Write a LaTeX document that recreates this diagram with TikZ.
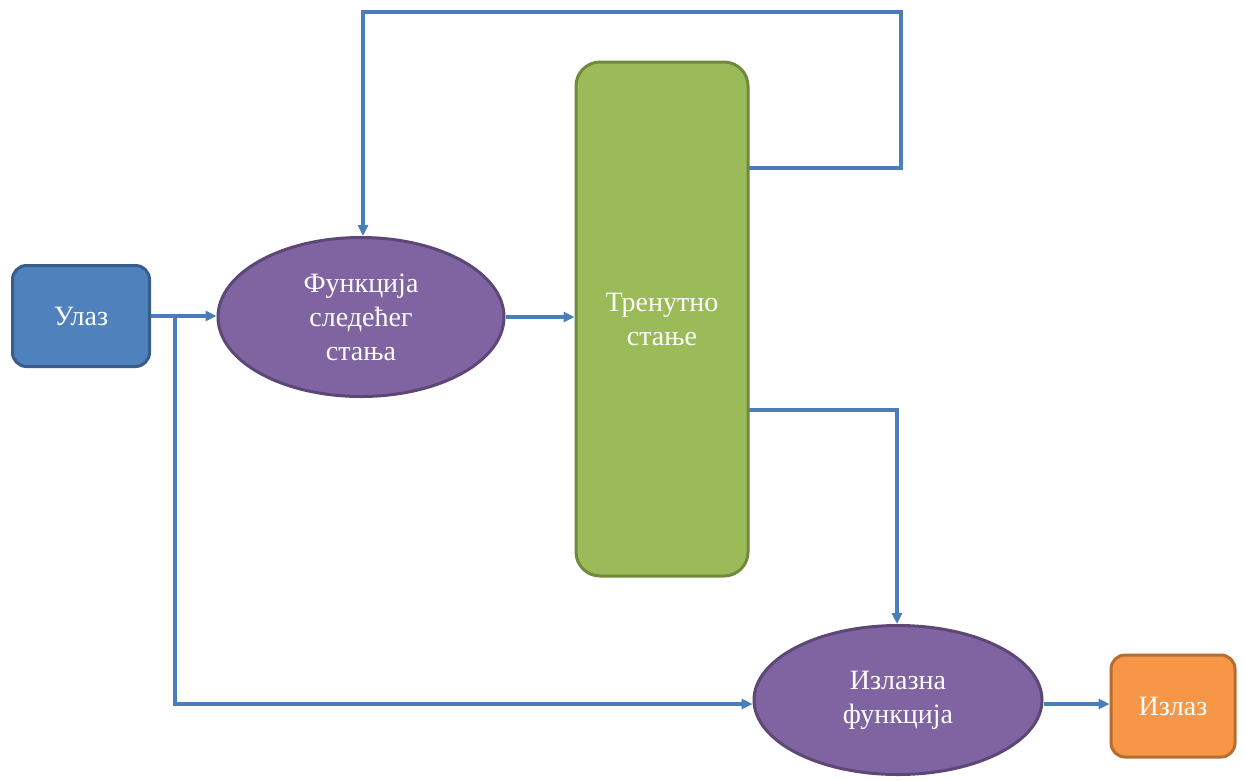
\documentclass[tikz,border=0pt]{standalone}
\usepackage{fontspec}
\setmainfont{Liberation Serif}
\usetikzlibrary{shapes.geometric,arrows.meta}
\definecolor{inblue}{HTML}{4F81BD}
\definecolor{inblueline}{HTML}{385D8A}
\definecolor{fpurple}{HTML}{8064A2}
\definecolor{fpurpleline}{HTML}{5C4776}
\definecolor{sgreen}{HTML}{9BBB59}
\definecolor{sgreenline}{HTML}{71893F}
\definecolor{oorange}{HTML}{F79646}
\definecolor{oorangeline}{HTML}{B66D31}
\definecolor{wire}{HTML}{4A7EBB}
\tikzset{
  lbl/.style={text=white, font=\fontsize{28}{34}\selectfont, align=center, inner sep=0pt},
  boxnode/.style={lbl, draw, line width=3pt, rounded corners=14pt},
  funcnode/.style={lbl, ellipse, draw=fpurpleline, fill=fpurple, line width=3pt},
  wireline/.style={draw=wire, line width=3.3pt, -{Triangle[length=11pt,width=10pt]}},
}
\begin{document}
\begin{tikzpicture}[x=1pt,y=-1pt]
\useasboundingbox (0,0) rectangle (1244,780);
\fill[white] (0,0) rectangle (1244,780);

\node[boxnode, draw=inblueline, fill=inblue, minimum width=137pt, minimum height=101pt] (in) at (81,316) {Улаз};
\node[funcnode, minimum width=286pt, minimum height=159pt] (next) at (361,317) {Функција\\следећег\\стања};
\node[boxnode, draw=sgreenline, fill=sgreen, rounded corners=24pt, minimum width=172pt, minimum height=514pt] (state) at (662,319) {Тренутно\\стање};
\node[funcnode, minimum width=288pt, minimum height=149pt] (outf) at (898,700) {Излазна\\функција};
\node[boxnode, draw=oorangeline, fill=oorange, minimum width=124pt, minimum height=102pt] (out) at (1173,706) {Излаз};

\coordinate (split) at (175,316);
\coordinate (fbA) at (749,168);
\coordinate (fbB) at (901,168);
\coordinate (fbC) at (901,12);
\coordinate (fbD) at (363,12);
\coordinate (osA) at (749,410);
\coordinate (osB) at (897,410);

\draw[wireline] (in.east |- split) -- (next.west |- split);
\draw[wireline] (split) -- (175,704) -- (outf.west |- 0,704);
\draw[wireline] (next.east) -- (state.west |- next.east);
\draw[wireline] (fbA) -- (fbB) -- (fbC) -- (fbD) -- (next.north -| fbD);
\draw[wireline] (osA) -- (osB) -- (outf.north -| osB);
\draw[wireline] (outf.east |- 0,704) -- (out.west |- 0,704);
\end{tikzpicture}
\end{document}
